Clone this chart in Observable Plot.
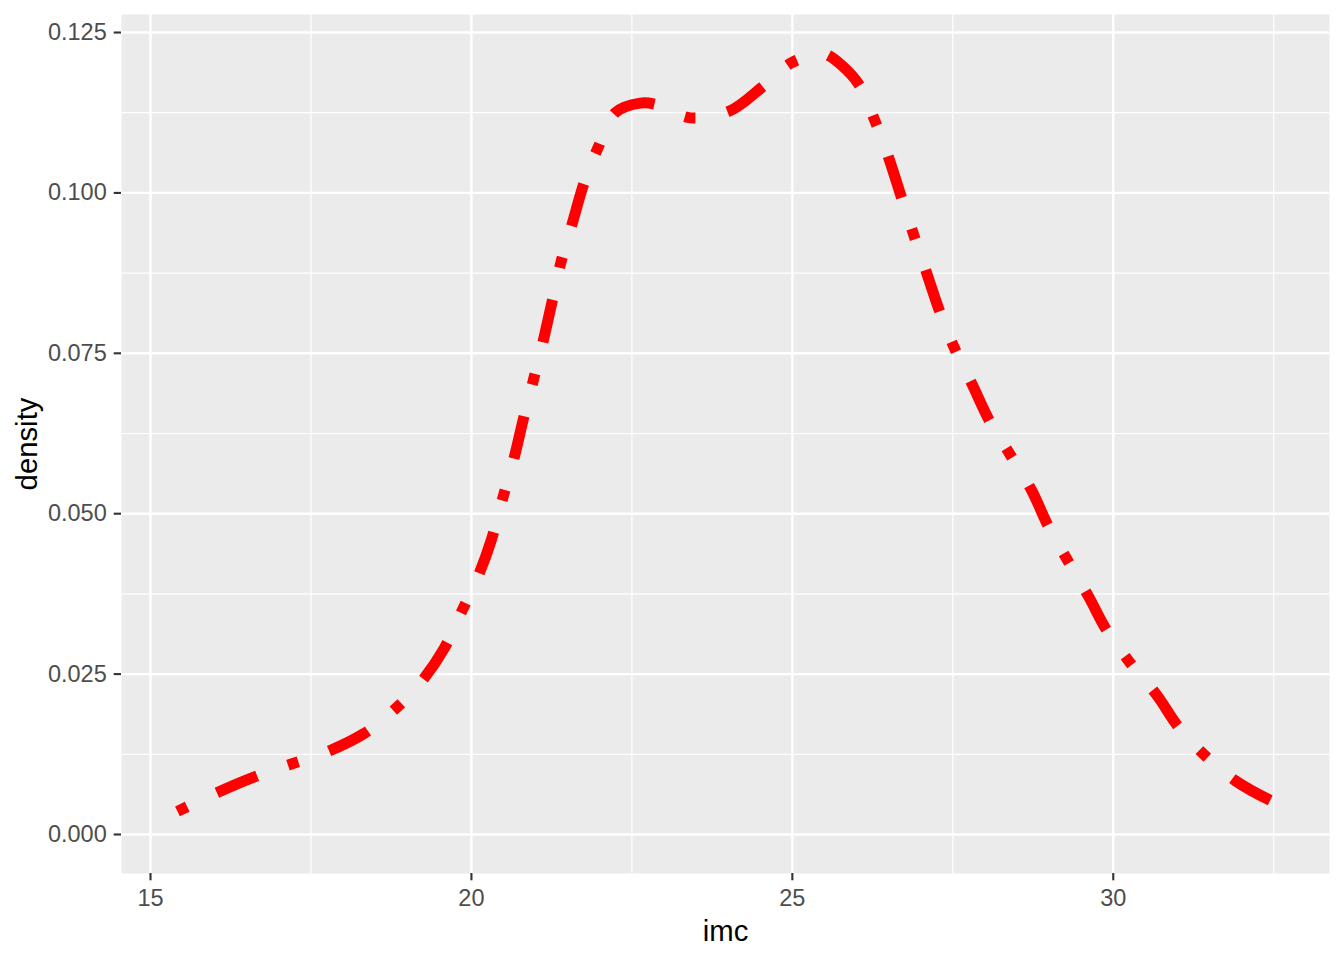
<!DOCTYPE html>
<html>
<head>
<meta charset="utf-8">
<script src="https://cdn.jsdelivr.net/npm/d3@7"></script>
<script src="https://cdn.jsdelivr.net/npm/@observablehq/plot@0.6"></script>
<style>
  html, body { margin: 0; padding: 0; background: #ffffff; }
  #chart svg { display: block; }
</style>
</head>
<body>
<div id="chart"></div>
<script>
const imc = [15.42, 16.01, 16.60, 17.17, 17.73, 18.32, 18.77, 19.21, 19.57, 19.84, 20.11, 20.31, 20.49, 20.66, 20.81, 20.97, 21.12, 21.26, 21.40, 21.57, 21.75, 21.97, 22.24, 22.63, 22.87, 23.41, 24.03, 24.53, 24.99, 25.45, 25.57, 26.01, 26.28, 26.50, 26.69, 26.89, 27.09, 27.30, 27.53, 27.80, 28.07, 28.40, 28.73, 28.99, 29.29, 29.62, 29.90, 30.26, 30.68, 31.02, 31.43, 31.90, 32.45, 32.52];
const density = [0.0036, 0.0064, 0.0089, 0.0109, 0.0128, 0.0157, 0.0192, 0.0237, 0.0289, 0.0346, 0.0404, 0.0459, 0.0525, 0.0585, 0.0648, 0.0710, 0.0770, 0.0832, 0.0894, 0.0952, 0.1014, 0.1070, 0.1125, 0.1140, 0.1138, 0.1117, 0.1128, 0.1165, 0.1203, 0.1217, 0.1214, 0.1173, 0.1114, 0.1055, 0.0996, 0.0935, 0.0876, 0.0814, 0.0757, 0.0702, 0.0645, 0.0591, 0.0536, 0.0480, 0.0427, 0.0370, 0.0318, 0.0268, 0.0217, 0.0167, 0.0123, 0.0084, 0.0053, 0.0050];

const xMajor = [15, 20, 25, 30];
const xMinor = [17.5, 22.5, 27.5, 32.5];
const yMajor = [0, 0.025, 0.05, 0.075, 0.1, 0.125];
const yMinor = [0.0125, 0.0375, 0.0625, 0.0875, 0.1125];

const data = imc.map((x, i) => ({imc: x, density: density[i]}));

const font = "'Liberation Sans', Arial, Helvetica, sans-serif";

const chart = Plot.plot({
  width: 1344,
  height: 960,
  marginLeft: 121,
  marginRight: 15,
  marginTop: 14,
  marginBottom: 87,
  style: {fontFamily: font, background: "#ffffff"},
  x: {domain: [14.548, 33.369]},
  y: {domain: [-0.00608, 0.12781]},
  marks: [
    Plot.frame({fill: "#EBEBEB", stroke: null}),
    Plot.ruleX(xMinor, {stroke: "#ffffff", strokeWidth: 1.2}),
    Plot.ruleY(yMinor, {stroke: "#ffffff", strokeWidth: 1.2}),
    Plot.ruleX(xMajor, {stroke: "#ffffff", strokeWidth: 2.4}),
    Plot.ruleY(yMajor, {stroke: "#ffffff", strokeWidth: 2.4}),
    Plot.line(data, {
      x: "imc", y: "density",
      stroke: "#FF0000", strokeWidth: 11,
      strokeDasharray: "10.9,32.7,43.6,32.7",
      strokeLinecap: "butt",
      curve: "catmull-rom"
    }),
    Plot.axisX(xMajor, {
      label: null, tickSize: 7.3, tickPadding: 8.6, fontSize: 23.5,
      stroke: "#333333", strokeWidth: 2.1, fill: "#4D4D4D", strokeOpacity: 1
    }),
    Plot.axisX([], {
      label: "imc", labelAnchor: "center", labelArrow: "none", labelOffset: 67,
      fontSize: 29.3, fill: "#000000", tickSize: 0
    }),
    Plot.axisY(yMajor, {
      label: null, tickSize: 7.3, tickPadding: 7.5, fontSize: 23.5,
      tickFormat: d3.format(".3f"),
      stroke: "#333333", strokeWidth: 2.1, fill: "#4D4D4D", strokeOpacity: 1
    }),
    Plot.axisY([], {
      label: "density", labelAnchor: "center", labelArrow: "none", labelOffset: 105,
      fontSize: 29.3, fill: "#000000", tickSize: 0
    })
  ]
});

document.getElementById("chart").appendChild(chart);
</script>
</body>
</html>
